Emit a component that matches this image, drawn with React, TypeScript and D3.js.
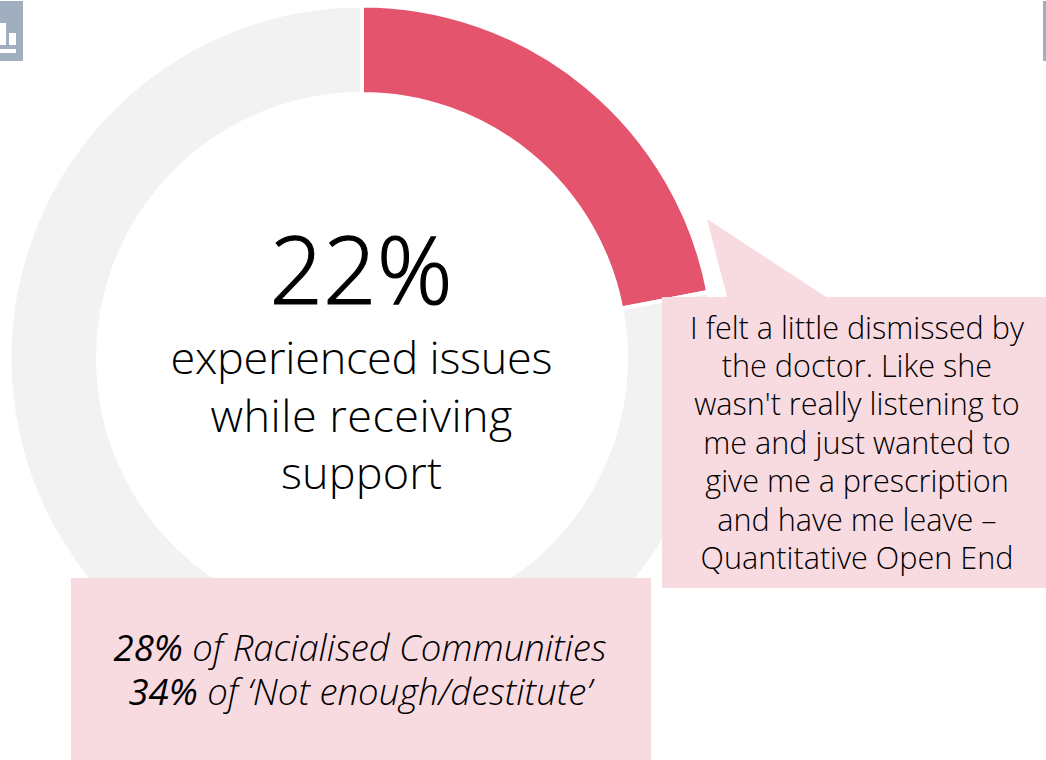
import React from "react";
import * as d3 from "d3";

const donutLabels = ["Experienced issues", "Did not"];
const donutValues = [22, 78];
const donutColors = ["#e4546c", "#f2f2f2"];
const centerLines = ["experienced issues", "while receiving", "support"];
const quoteLines = [
  "I felt a little dismissed by",
  "the doctor. Like she",
  "wasn't really listening to",
  "me and just wanted to",
  "give me a prescription",
  "and have me leave –",
  "Quantitative Open End",
];
const noteRows = [
  ["28%", " of Racialised Communities"],
  ["34%", " of ‘Not enough/destitute’"],
];

const font = "'Open Sans', 'Noto Sans', sans-serif";
const pink = "#f8dae1";
const centerWidths = [382, 302, 161];

export default function App() {
  const cx = 362, cy = 358;
  const pie = d3.pie<number>().sort(null).padAngle(0)(donutValues);
  const arc = d3.arc<d3.PieArcDatum<number>>().innerRadius(264).outerRadius(352.5);
  return (
    <svg width={1046} height={760} style={{ position: "absolute", left: 0, top: 0 }} fontFamily={font} fontWeight={300}>
      <rect x={0} y={1} width={23} height={60} fill="#a0aebf" />
      <rect x={-2} y={23} width={8} height={22} fill="#fff" />
      <rect x={9} y={33} width={7} height={12} fill="#fff" />
      <rect x={-2} y={49} width={18} height={4} fill="#fff" />
      <rect x={1043} y={1} width={3} height={60} fill="#a0aebf" />
      <g transform={`translate(${cx},${cy})`}>
        {pie.map((d, i) => (
          <path key={donutLabels[i]} d={arc(d) ?? ""} fill={donutColors[i]} stroke="#fff" strokeWidth={4} />
        ))}
      </g>
      <text x={361} y={304} textAnchor="middle" fontSize={94} fill="#000" stroke="#000" strokeWidth={1.2}>22%</text>
      {centerLines.map((t, i) => (
        <text key={t} x={361.5} y={374 + i * 57.5} textAnchor="middle" fontSize={45} fill="#000" textLength={centerWidths[i]}>{t}</text>
      ))}
      <polygon points="707,219 826,297 727,297" fill={pink} />
      <rect x={662} y={297} width={384} height={291} fill={pink} />
      {quoteLines.map((t, i) => (
        <text key={t} x={857} y={338.5 + i * 38.4} textAnchor="middle" fontSize={30.6} fill="#000">{t}</text>
      ))}
      <rect x={71} y={578} width={580} height={182} fill={pink} />
      {noteRows.map((r, i) => (
        <text key={r[0]} x={360} y={661 + i * 44} textAnchor="middle" fontSize={36.5} fontStyle="italic" fill="#000">
          <tspan fontWeight={400}>{r[0]}</tspan>
          <tspan>{r[1]}</tspan>
        </text>
      ))}
    </svg>
  );
}
